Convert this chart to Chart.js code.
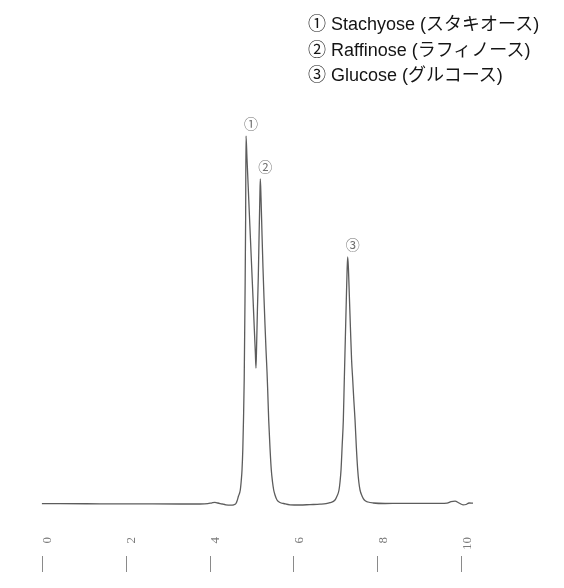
<!DOCTYPE html>
<html>
<head>
<meta charset="utf-8">
<script src="https://cdn.jsdelivr.net/npm/chart.js@4.4.1/dist/chart.umd.min.js"></script>
<style>
  html, body { margin: 0; padding: 0; background: #ffffff; }
  #wrap { position: relative; width: 564px; height: 588px; }
  #chart { position: absolute; left: 0; top: 0; }
  .leg { position: absolute; left: 308px; white-space: nowrap; line-height: 1;
         font-family: "Liberation Sans", Arial, "Noto Sans CJK JP", sans-serif;
         font-size: 18px; color: #141414; }
</style>
</head>
<body>
<div id="wrap">
  <canvas id="chart" width="564" height="588"></canvas>
  <div class="leg" style="top:15px">① Stachyose (スタキオース)</div>
  <div class="leg" style="top:41px">② Raffinose (ラフィノース)</div>
  <div class="leg" style="top:66px">③ Glucose (グルコース)</div>
</div>
<script>
// Retention time (min)
const times = [
  0.00, 0.44, 1.39, 2.34, 3.30, 3.77, 3.96, 4.06, 4.13, 4.20, 4.30, 4.39, 4.49, 4.58, 4.63,
  4.656, 4.691, 4.734, 4.758, 4.775, 4.794, 4.810, 4.827, 4.846, 4.861, 4.870,
  4.894, 4.923, 4.949, 4.977, 5.006, 5.037, 5.068, 5.092, 5.108,
  5.123, 5.142, 5.163, 5.182, 5.199, 5.211,
  5.228, 5.252, 5.275, 5.299, 5.323, 5.347, 5.371, 5.387, 5.411, 5.442, 5.473, 5.502, 5.530, 5.561, 5.609, 5.680, 5.769,
  5.919, 6.157, 6.395, 6.634, 6.777, 6.872,
  6.992, 7.040, 7.087, 7.111, 7.135, 7.163, 7.190, 7.213, 7.237, 7.261, 7.280, 7.294,
  7.311, 7.333, 7.361, 7.387, 7.414, 7.440, 7.469, 7.500, 7.533, 7.559, 7.588, 7.635, 7.690, 7.778, 7.905,
  8.184, 8.541, 9.018, 9.495, 9.662, 9.757, 9.853, 9.948, 10.043, 10.115, 10.186, 10.282
];
// Detector signal (arbitrary units)
const signal = [
  0.4, 0.3, 0.2, 0.1, 0.0, 0.0, 0.3, 1.2, 1.6, 1.0, 0.0, -0.8, -1.2, -0.8, 0.5,
  3, 8, 14, 24, 34, 55, 84, 124, 204, 284, 368,
  345, 317, 291, 264, 236, 206, 175, 152, 136,
  159, 194, 227, 269, 304, 325,
  306, 269, 236, 206, 179, 154, 132, 114, 84, 56, 34, 22, 14, 9, 4, 1.5, 0.5,
  -0.8, -1.0, -0.6, -0.2, 0.3, 1.3,
  4, 8, 14, 22, 34, 59, 84, 124, 164, 204, 234, 247,
  236, 209, 174, 144, 124, 104, 84, 57, 34, 22, 14, 8, 4, 2, 1,
  0.5, 0.7, 0.7, 0.6, 0.8, 2.3, 2.8, 1.0, -0.8, -0.5, 1.0, 0.8
];
// X-axis tick labels
const tickValues = [0, 2, 4, 6, 8, 10];
// Peak markers and their apex times
const peakMarks = ['①', '②', '③'];
const peakTimes = [4.870, 5.211, 7.294];

const points = times.map((t, i) => ({ x: t, y: signal[i] }));

const extrasPlugin = {
  id: 'extras',
  afterDraw(chart) {
    const ctx = chart.ctx;
    const xs = chart.scales.x;
    const area = chart.chartArea;
    // tick marks below the rotated labels
    ctx.save();
    ctx.strokeStyle = '#8a8a8a';
    ctx.lineWidth = 1;
    tickValues.forEach(v => {
      const px = Math.round(xs.getPixelForValue(v)) + 0.5;
      ctx.beginPath();
      ctx.moveTo(px, area.bottom + 32);
      ctx.lineTo(px, area.bottom + 48);
      ctx.stroke();
    });
    // circled peak numbers
    const meta = chart.getDatasetMeta(0);
    ctx.fillStyle = '#707070';
    ctx.font = '14px "Noto Sans CJK JP", "DejaVu Sans", sans-serif';
    ctx.textAlign = 'center';
    ctx.textBaseline = 'middle';
    peakMarks.forEach((m, i) => {
      const idx = times.indexOf(peakTimes[i]);
      const el = meta.data[idx];
      ctx.fillText(m, el.x + 5, el.y - 12.5);
    });
    ctx.restore();
  }
};

new Chart(document.getElementById('chart'), {
  type: 'line',
  data: {
    datasets: [{
      data: points,
      borderColor: '#5c5c5c',
      borderWidth: 1.3,
      pointRadius: 0,
      fill: false,
      cubicInterpolationMode: 'monotone'
    }]
  },
  options: {
    responsive: false,
    animation: false,
    events: [],
    layout: { padding: { left: 41.7, right: 90.2, top: 100, bottom: 14 } },
    plugins: { legend: { display: false }, tooltip: { enabled: false }, title: { display: false } },
    scales: {
      x: {
        type: 'linear',
        min: 0,
        max: 10.3,
        afterBuildTicks: s => { s.ticks = tickValues.map(v => ({ value: v })); },
        afterFit: s => { s.height = 50; },
        grid: { display: false, drawTicks: false },
        border: { display: false },
        ticks: {
          autoSkip: false,
          minRotation: 90,
          maxRotation: 90,
          padding: 13,
          labelOffset: 6,
          color: '#7a7a7a',
          font: { family: '"Liberation Serif", serif', size: 13 },
          callback: v => String(v)
        }
      },
      y: {
        display: false,
        min: -20,
        max: 404
      }
    }
  },
  plugins: [extrasPlugin]
});
</script>
</body>
</html>
